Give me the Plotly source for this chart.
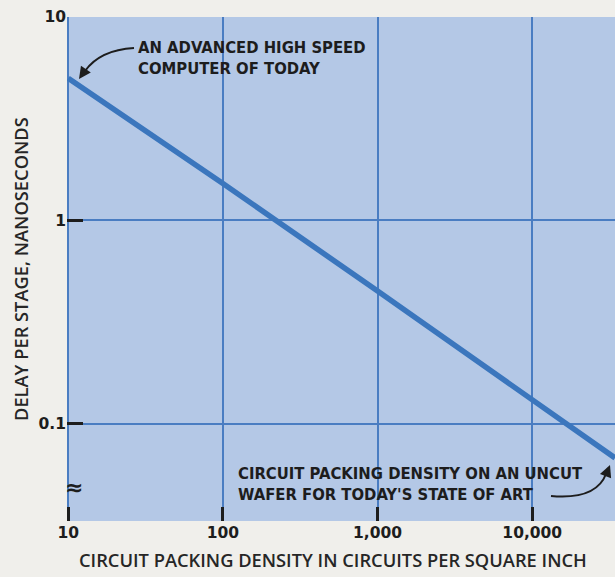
import plotly.graph_objects as go

# ---- data ----
density = [10, 100, 1000, 10000, 34300]          # circuits per square inch
delay_ns = [5.0, 1.52, 0.45, 0.13, 0.068]         # delay per stage, ns

x_tickvals = [10, 100, 1000, 10000]
x_ticktext = ["10", "100", "1,000", "10,000"]
y_tickvals = [0.1, 1, 10]
y_ticktext = ["0.1", "1", "10"]

x_title = "CIRCUIT PACKING DENSITY IN CIRCUITS PER SQUARE INCH"
y_title = "DELAY PER STAGE, NANOSECONDS"
note_top = "AN ADVANCED HIGH SPEED<br>COMPUTER OF TODAY"
note_bottom = "CIRCUIT PACKING DENSITY ON AN UNCUT<br>WAFER FOR TODAY'S STATE OF ART"

# ---- style ----
W, H = 615, 577
ML, MR, MT, MB = 67, 0, 17, 56
PW, PH = W - ML - MR, H - MT - MB

PAPER = "#f0efeb"
PLOT_BG = "#b4c8e6"
GRID = "#4a7dc2"
LINE = "#3b76bd"
INK = "#1d1d1d"
TICK_FONT = dict(family="DejaVu Sans, Liberation Sans, sans-serif", size=15.5, color=INK, weight="bold")
TITLE_FONT = dict(family="Open Sans, Liberation Sans, sans-serif", size=18.3, color="#262626", weight=600)
NOTE_FONT = dict(family="DejaVu Sans Condensed, Liberation Sans Narrow, Arial Narrow, sans-serif",
                 size=16.5, color=INK, weight="bold")


def px(X):
    return (X - ML) / PW


def py(Y):
    return (H - MB - Y) / PH


fig = go.Figure()
fig.add_trace(go.Scatter(
    x=density, y=delay_ns, mode="lines",
    line=dict(color=LINE, width=5.5),
    hoverinfo="skip", showlegend=False,
))

fig.update_layout(
    width=W, height=H,
    margin=dict(l=ML, r=MR, t=MT, b=MB, autoexpand=False),
    paper_bgcolor=PAPER, plot_bgcolor=PLOT_BG,
    showlegend=False,
    xaxis=dict(
        type="log", range=[0.992, 4.535],
        tickvals=x_tickvals, ticktext=x_ticktext,
        showgrid=True, gridcolor=GRID, gridwidth=2,
        ticks="inside", ticklen=14, tickwidth=3, tickcolor=INK,
        tickfont=TICK_FONT, ticklabelstandoff=0,
        showline=False, zeroline=False,
        automargin=False,
    ),
    yaxis=dict(
        type="log", range=[-1.477, 1.0],
        tickvals=y_tickvals, ticktext=y_ticktext,
        showgrid=True, gridcolor=GRID, gridwidth=2,
        ticks="inside", ticklen=16, tickwidth=3, tickcolor=INK,
        tickfont=TICK_FONT, ticklabelstandoff=0,
        showline=False, zeroline=False,
        automargin=False,
    ),
)

# axis titles
fig.add_annotation(
    text=y_title, xref="paper", yref="paper", x=px(20), y=0.5,
    textangle=-90, showarrow=False, font=TITLE_FONT,
    xanchor="center", yanchor="middle",
)
fig.add_annotation(
    text=x_title, xref="paper", yref="paper", x=px(333), y=py(559),
    showarrow=False, font=TITLE_FONT, xanchor="center", yanchor="middle",
)

# axis break symbol
fig.add_annotation(
    text="≈", xref="paper", yref="paper", x=px(74), y=py(487),
    xanchor="center", yanchor="middle",
    showarrow=False, font=dict(family="DejaVu Sans, sans-serif", size=22,
                                color=INK, weight="bold"),
)

# notes
fig.add_annotation(
    text=note_top, xref="paper", yref="paper", x=px(136), y=py(58),
    xanchor="left", yanchor="middle", align="left", showarrow=False, font=NOTE_FONT,
)
fig.add_annotation(
    text=note_bottom, xref="paper", yref="paper", x=px(236), y=py(484),
    xanchor="left", yanchor="middle", align="left", showarrow=False, font=NOTE_FONT,
)

# curved leader lines
fig.add_shape(
    type="path", xref="paper", yref="paper",
    path=f"M {px(134)},{py(48)} Q {px(100)},{py(50)} {px(85)},{py(71)}",
    line=dict(color=INK, width=2),
)
fig.add_annotation(
    text="", xref="paper", yref="paper", x=px(79), y=py(79), ax=7, ay=-10,
    showarrow=True, arrowhead=2, arrowsize=1.2, arrowwidth=2, arrowcolor=INK,
)
fig.add_shape(
    type="path", xref="paper", yref="paper",
    path=f"M {px(551)},{py(496)} Q {px(596)},{py(500)} {px(606)},{py(474)}",
    line=dict(color=INK, width=2),
)
fig.add_annotation(
    text="", xref="paper", yref="paper", x=px(610), y=py(465), ax=-4, ay=10,
    showarrow=True, arrowhead=2, arrowsize=1.2, arrowwidth=2, arrowcolor=INK,
)

fig.write_html(
    "out.html",
    config={"displayModeBar": False},
    post_script="document.body.style.margin='0';document.documentElement.style.overflow='hidden';",
)
